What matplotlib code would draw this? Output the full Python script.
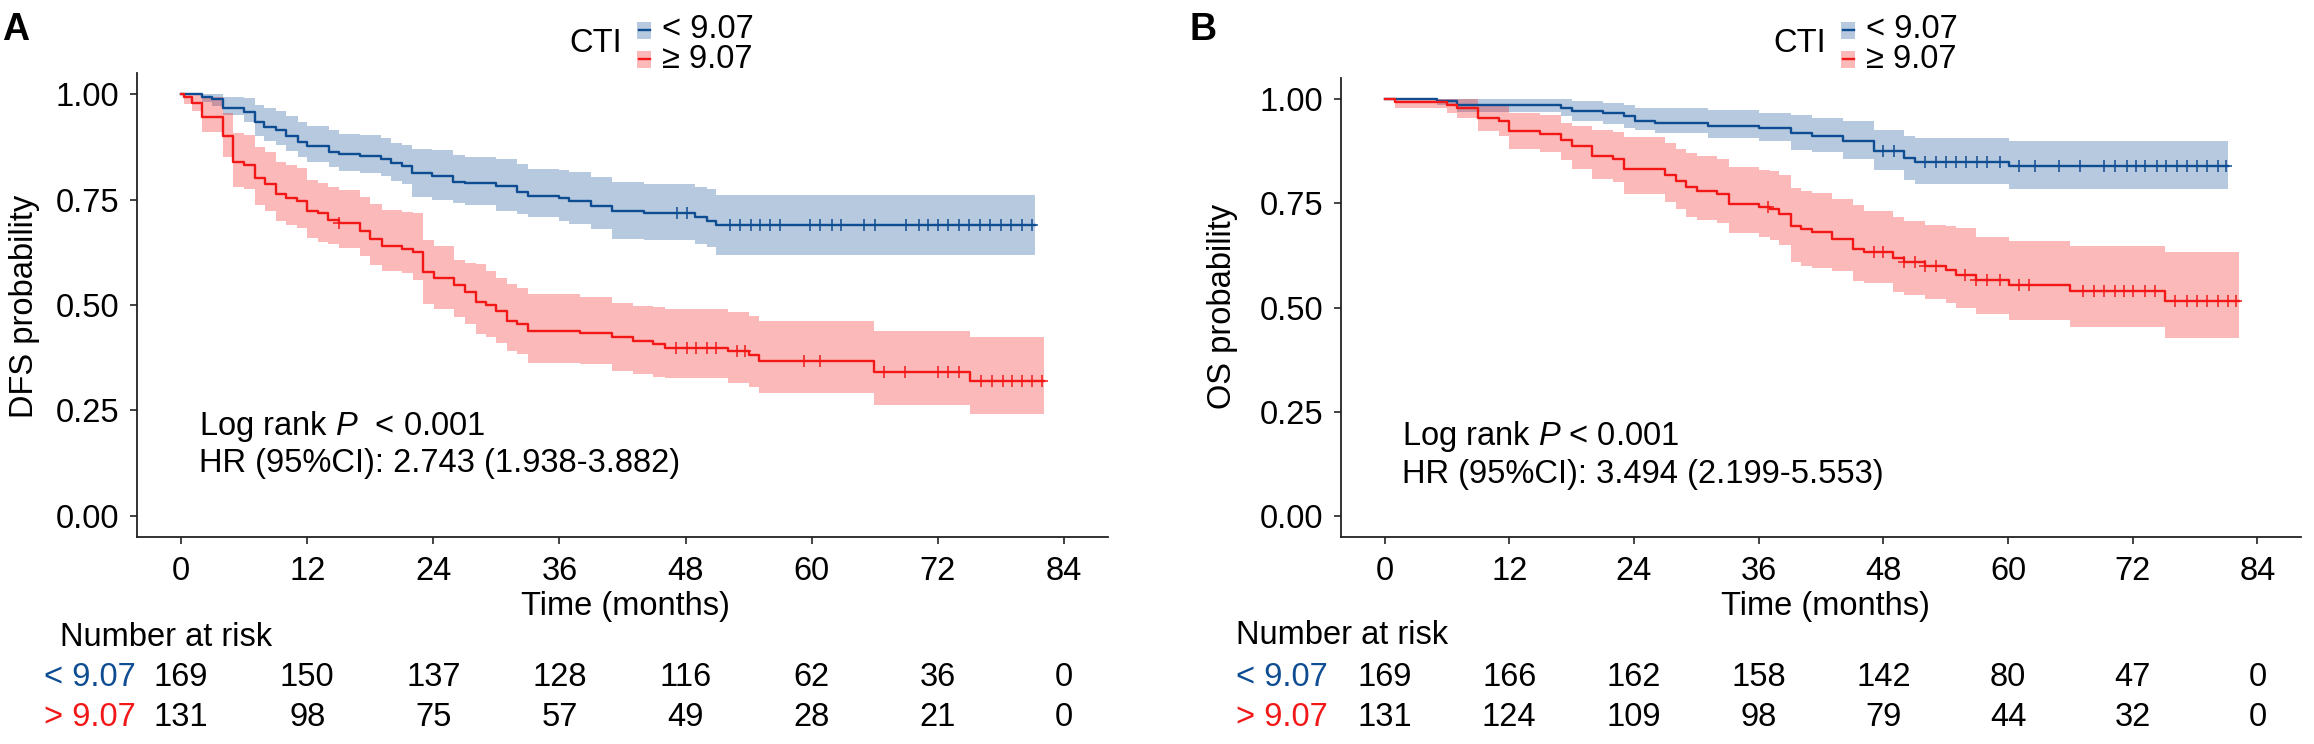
import numpy as np
import matplotlib.pyplot as plt
from matplotlib.patches import Rectangle
from matplotlib.lines import Line2D
from matplotlib.transforms import blended_transform_factory

plt.rcParams['font.family'] = ['Liberation Sans', 'DejaVu Sans']
plt.rcParams['mathtext.fontset'] = 'custom'
plt.rcParams['mathtext.rm'] = 'Liberation Sans'
plt.rcParams['mathtext.it'] = 'Liberation Sans:italic'

blue = '#0F4D92'
red = '#F21818'
FS = 23.5

# ---- DFS (panel A), CTI < 9.07 ----
dfs_lo_t = [0, 1.95, 2.9, 4.0, 6.0, 7.0, 7.9, 9.0, 10.0, 11.1, 12.0, 14.1, 15.0, 17.0, 19.0, 20.0,
            21.0, 22.0, 23.9, 25.9, 27.0, 30.0, 32.0, 33.0, 36.0, 36.9, 39.0, 41.0, 44.0, 48.9, 50.0, 50.9]
dfs_lo_s = [1.0, 0.994, 0.988, 0.966, 0.958, 0.935, 0.923, 0.915, 0.900, 0.886, 0.876, 0.863, 0.857, 0.853, 0.847, 0.836,
            0.830, 0.812, 0.806, 0.792, 0.789, 0.782, 0.769, 0.758, 0.753, 0.746, 0.734, 0.722, 0.717, 0.708, 0.700, 0.690]
dfs_lo_l = [1.0, 0.982, 0.972, 0.950, 0.935, 0.900, 0.888, 0.880, 0.865, 0.851, 0.840, 0.827, 0.818, 0.812, 0.807, 0.795,
            0.788, 0.756, 0.750, 0.741, 0.736, 0.723, 0.715, 0.709, 0.700, 0.693, 0.681, 0.657, 0.653, 0.645, 0.637, 0.618]
dfs_lo_u = [1.0, 1.0, 1.0, 0.994, 0.990, 0.975, 0.966, 0.960, 0.948, 0.935, 0.924, 0.915, 0.906, 0.902, 0.895, 0.885,
            0.880, 0.870, 0.867, 0.855, 0.850, 0.847, 0.834, 0.823, 0.819, 0.815, 0.804, 0.792, 0.788, 0.780, 0.776, 0.760]
dfs_lo_end = 81.3
dfs_lo_cens = [47.2, 48.1, 52.2, 53.2, 54.2, 55.1, 56.0, 57.0, 59.8, 60.8, 61.9, 62.8, 65.0, 66.0, 69.0, 70.2,
               71.1, 72.0, 73.0, 74.0, 75.0, 76.0, 77.0, 78.0, 79.0, 80.0, 81.0]

# ---- DFS (panel A), CTI >= 9.07 ----
dfs_hi_t = [0, 0.3, 1.0, 2.0, 4.0, 4.9, 6.0, 7.0, 8.0, 9.0, 10.0, 11.0, 12.0, 13.0, 14.0, 15.0, 17.0, 18.0, 19.1,
            21.0, 22.1, 23.0, 24.1, 26.0, 27.0, 28.1, 29.0, 30.0, 31.0, 32.0, 33.0, 38.0, 41.0, 43.0, 44.9, 46.0,
            52.0, 54.0, 55.0, 65.9, 75.1]
dfs_hi_s = [1.0, 0.992, 0.978, 0.946, 0.901, 0.839, 0.833, 0.802, 0.788, 0.764, 0.754, 0.746, 0.724, 0.719, 0.702, 0.695,
            0.675, 0.657, 0.639, 0.633, 0.625, 0.578, 0.563, 0.548, 0.530, 0.507, 0.501, 0.485, 0.463, 0.455, 0.439,
            0.433, 0.425, 0.415, 0.407, 0.399, 0.392, 0.382, 0.367, 0.340, 0.319]
dfs_hi_l = [1.0, 0.977, 0.960, 0.911, 0.851, 0.780, 0.775, 0.736, 0.722, 0.700, 0.690, 0.682, 0.660, 0.650, 0.645, 0.635,
            0.615, 0.596, 0.580, 0.575, 0.560, 0.503, 0.490, 0.471, 0.455, 0.432, 0.425, 0.410, 0.390, 0.385, 0.363,
            0.361, 0.344, 0.337, 0.330, 0.328, 0.316, 0.305, 0.292, 0.264, 0.242]
dfs_hi_u = [1.0, 1.0, 1.0, 0.994, 0.956, 0.907, 0.903, 0.875, 0.862, 0.840, 0.832, 0.825, 0.796, 0.790, 0.780, 0.772,
            0.756, 0.740, 0.725, 0.720, 0.717, 0.653, 0.640, 0.606, 0.600, 0.598, 0.580, 0.565, 0.550, 0.540, 0.527,
            0.520, 0.505, 0.498, 0.495, 0.490, 0.483, 0.475, 0.463, 0.439, 0.424]
dfs_hi_end = 82.1
dfs_hi_cens = [15.0, 47.1, 48.1, 49.0, 50.0, 50.9, 52.9, 53.7, 59.3, 60.8, 66.9, 68.9, 72.0, 73.0, 74.0,
               76.1, 77.2, 78.2, 79.1, 80.0, 81.0, 81.9]

# ---- OS (panel B), CTI < 9.07 ----
os_lo_t = [0, 5.0, 7.0, 17.0, 18.0, 21.0, 23.0, 24.1, 26.0, 31.1, 36.0, 39.1, 41.1, 44.1, 47.1, 50.0, 51.0, 60.1]
os_lo_s = [1.0, 0.995, 0.986, 0.979, 0.972, 0.966, 0.958, 0.948, 0.942, 0.935, 0.929, 0.918, 0.911, 0.900, 0.876,
           0.858, 0.849, 0.838]
os_lo_l = [1.0, 0.985, 0.969, 0.958, 0.948, 0.940, 0.930, 0.926, 0.918, 0.906, 0.898, 0.877, 0.872, 0.856, 0.830,
           0.806, 0.796, 0.784]
os_lo_u = [1.0, 1.0, 1.0, 0.999, 0.996, 0.989, 0.985, 0.978, 0.977, 0.973, 0.967, 0.962, 0.955, 0.946, 0.926,
           0.911, 0.906, 0.899]
os_lo_end = 81.2
os_lo_cens = [48.0, 49.0, 52.0, 53.1, 54.0, 55.0, 56.0, 57.0, 58.0, 59.2, 61.1, 62.6, 64.9, 66.9, 69.2, 70.3,
              71.5, 72.3, 73.2, 74.3, 75.2, 76.3, 77.2, 78.2, 79.2, 80.2, 81.0]

# ---- OS (panel B), CTI >= 9.07 ----
os_hi_t = [0, 1.0, 6.0, 7.0, 9.0, 11.0, 12.0, 15.0, 17.0, 18.0, 20.0, 22.0, 23.0, 27.0, 28.0, 29.0, 30.1, 32.0,
           33.1, 36.0, 37.1, 38.0, 39.1, 40.1, 41.1, 43.1, 45.1, 46.1, 48.9, 50.0, 52.0, 54.0, 55.0, 56.9, 60.1,
           66.0, 75.1]
os_hi_s = [1.0, 0.992, 0.986, 0.978, 0.954, 0.946, 0.924, 0.916, 0.902, 0.886, 0.863, 0.856, 0.833, 0.817, 0.802,
           0.788, 0.779, 0.772, 0.748, 0.742, 0.735, 0.725, 0.696, 0.688, 0.680, 0.664, 0.641, 0.634, 0.618, 0.609,
           0.599, 0.590, 0.578, 0.566, 0.554, 0.540, 0.516]
os_hi_l = [1.0, 0.977, 0.966, 0.954, 0.922, 0.910, 0.880, 0.872, 0.853, 0.833, 0.807, 0.800, 0.771, 0.752, 0.735,
           0.718, 0.710, 0.702, 0.678, 0.668, 0.662, 0.650, 0.610, 0.600, 0.595, 0.588, 0.564, 0.558, 0.538, 0.530,
           0.520, 0.510, 0.498, 0.484, 0.470, 0.454, 0.426]
os_hi_u = [1.0, 1.0, 1.0, 0.999, 0.988, 0.983, 0.966, 0.962, 0.942, 0.935, 0.926, 0.920, 0.908, 0.895, 0.880,
           0.870, 0.862, 0.855, 0.836, 0.830, 0.828, 0.818, 0.786, 0.780, 0.775, 0.760, 0.745, 0.732, 0.718, 0.708,
           0.698, 0.695, 0.690, 0.670, 0.660, 0.648, 0.632]
os_hi_end = 82.2
os_hi_cens = [36.9, 47.1, 48.0, 50.0, 51.0, 52.0, 53.1, 55.9, 56.9, 58.0, 59.2, 61.1, 62.0, 67.2, 68.3, 69.2,
              70.3, 71.2, 72.0, 73.2, 74.1, 76.1, 77.2, 78.2, 79.2, 80.2, 81.2, 81.9]

# number at risk
risk_times = [0, 12, 24, 36, 48, 60, 72, 84]
dfs_risk_lo = [169, 150, 137, 128, 116, 62, 36, 0]
dfs_risk_hi = [131, 98, 75, 57, 49, 28, 21, 0]
os_risk_lo = [169, 166, 162, 158, 142, 80, 47, 0]
os_risk_hi = [131, 124, 109, 98, 79, 44, 32, 0]

W, H = 2314, 744
fig = plt.figure(figsize=(W / 100, H / 100), dpi=100)


def box(l, t, r, b):
    return [l / W, 1 - b / H, (r - l) / W, (b - t) / H]


def fill_km(ax, t, lo, hi, end, color):
    tt = np.append(t, end)
    ax.fill_between(tt, np.append(lo, lo[-1]), np.append(hi, hi[-1]), step='post',
                    color=color, alpha=0.3, lw=0)


def line_km(ax, t, s, end, cens, color):
    tt = np.append(t, end)
    ss = np.append(s, s[-1])
    ax.step(tt, ss, where='post', color=color, lw=1.7)
    idx = np.searchsorted(t, cens, side='right') - 1
    ax.plot(cens, np.array(s)[idx], ls='none', marker='+', ms=9, mew=1.1, color=color)


def style(ax):
    ax.set_xlim(-4.2, 88.2)
    ax.set_ylim(-0.05, 1.05)
    ax.set_xticks(risk_times)
    ax.set_yticks([0, 0.25, 0.5, 0.75, 1.0])
    ax.set_yticklabels(['0.00', '0.25', '0.50', '0.75', '1.00'])
    for s in ['top', 'right']:
        ax.spines[s].set_visible(False)
    for s in ['left', 'bottom']:
        ax.spines[s].set_linewidth(1.3)
        ax.spines[s].set_color('#222222')
    ax.tick_params(axis='both', labelsize=FS, length=5, width=1.2, color='#222222')
    ax.tick_params(axis='x', pad=9)
    ax.tick_params(axis='y', pad=8)


def legend(x0, y_cti):
    fig.text(x0 / W, 1 - y_cti / H, 'CTI', fontsize=FS, ha='left', va='center')
    for yc, col, lab in [(30, blue, '< 9.07'), (59, red, '\u2265 9.07')]:
        fig.add_artist(Rectangle(((x0 + 68) / W, 1 - (yc + 8.5) / H), 14 / W, 17 / H,
                                 transform=fig.transFigure, color=col, alpha=0.3, lw=0))
        fig.add_artist(Line2D([(x0 + 69.5) / W, (x0 + 80.5) / W], [1 - yc / H, 1 - yc / H],
                              transform=fig.transFigure, color=col, lw=1.7))
        fig.text((x0 + 93) / W, 1 - yc / H, lab, fontsize=FS, ha='left', va='center')


def risk_table(ax, lo, hi, x_title, x_lab, y_title):
    tr = blended_transform_factory(ax.transData, fig.transFigure)
    fig.text(x_title / W, 1 - y_title / H, 'Number at risk', fontsize=FS, ha='left', va='center')
    for yc, vals, col, lab in [(678, lo, blue, '< 9.07'), (718, hi, red, '> 9.07')]:
        fig.text(x_lab / W, 1 - yc / H, lab, fontsize=FS, ha='left', va='center', color=col)
        for x, n in zip(risk_times, vals):
            ax.text(x, 1 - yc / H, str(n), transform=tr, fontsize=FS, ha='center', va='center',
                    clip_on=False)


# panel A
axA = fig.add_axes(box(137, 73, 1108, 537))
fill_km(axA, dfs_lo_t, dfs_lo_l, dfs_lo_u, dfs_lo_end, blue)
fill_km(axA, dfs_hi_t, dfs_hi_l, dfs_hi_u, dfs_hi_end, red)
line_km(axA, dfs_lo_t, dfs_lo_s, dfs_lo_end, dfs_lo_cens, blue)
line_km(axA, dfs_hi_t, dfs_hi_s, dfs_hi_end, dfs_hi_cens, red)
style(axA)
axA.text(1.7, 0.212, 'Log rank $P$  < 0.001', fontsize=FS, va='center')
axA.text(1.7, 0.124, 'HR (95%CI): 2.743 (1.938-3.882)', fontsize=FS, va='center')
fig.text(25 / W, 1 - 306 / H, 'DFS probability', fontsize=FS, rotation=90, ha='center', va='center')
fig.text(625 / W, 1 - 607 / H, 'Time (months)', fontsize=FS, ha='center', va='center')
fig.text(16 / W, 1 - 30 / H, 'A', fontsize=27, fontweight='bold', ha='center', va='center')
legend(569, 43)
risk_table(axA, dfs_risk_lo, dfs_risk_hi, 60, 44, 638)

# panel B
axB = fig.add_axes(box(1341, 78, 2301, 537))
fill_km(axB, os_lo_t, os_lo_l, os_lo_u, os_lo_end, blue)
fill_km(axB, os_hi_t, os_hi_l, os_hi_u, os_hi_end, red)
line_km(axB, os_lo_t, os_lo_s, os_lo_end, os_lo_cens, blue)
line_km(axB, os_hi_t, os_hi_s, os_hi_end, os_hi_cens, red)
style(axB)
axB.text(1.7, 0.19, 'Log rank $P$ < 0.001', fontsize=FS, va='center')
axB.text(1.7, 0.10, 'HR (95%CI): 3.494 (2.199-5.553)', fontsize=FS, va='center')
fig.text(1223 / W, 1 - 306 / H, 'OS probability', fontsize=FS, rotation=90, ha='center', va='center')
fig.text(1825 / W, 1 - 607 / H, 'Time (months)', fontsize=FS, ha='center', va='center')
fig.text(1203 / W, 1 - 30 / H, 'B', fontsize=27, fontweight='bold', ha='center', va='center')
legend(1773, 43)
risk_table(axB, os_risk_lo, os_risk_hi, 1236, 1236, 635)

fig.savefig('out.png', dpi=100)
